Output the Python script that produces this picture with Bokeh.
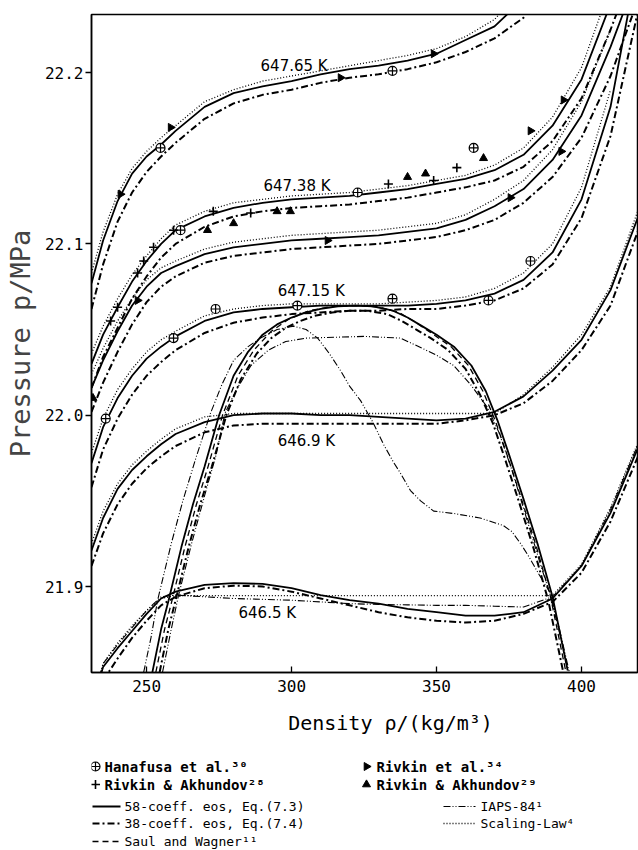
from bokeh.plotting import figure
from bokeh.layouts import column
from bokeh.models import Range1d, FixedTicker, PrintfTickFormatter
from bokeh.core.properties import value
from bokeh.embed import file_html
from bokeh.resources import INLINE
import math

# ---------------- data ----------------
# density grid for isotherms, kg/m3
rho = [231, 235, 240, 245, 250, 255, 260, 270, 280, 290, 300, 310, 320, 330,
       340, 350, 360, 370, 380, 390, 400, 410, 420]

# T = 647.65 K
t64765_58 = [22.077, 22.102, 22.125, 22.141, 22.151, 22.158, 22.166, 22.180, 22.188, 22.192,
             22.195, 22.199, 22.202, 22.204, 22.207, 22.211, 22.219, 22.227, 22.243, 22.27]
t64765_38 = [22.062, 22.088, 22.113, 22.130, 22.142, 22.151, 22.159, 22.173, 22.182, 22.187,
             22.190, 22.194, 22.197, 22.199, 22.202, 22.206, 22.212, 22.220, 22.232, 22.26]
t64765_sc = [22.083, 22.107, 22.129, 22.144, 22.154, 22.162, 22.169, 22.183, 22.190, 22.195,
             22.198, 22.201, 22.204, 22.207, 22.210, 22.214, 22.221, 22.231, 22.25]
# T = 647.38 K
t64738_58 = [22.030, 22.047, 22.063, 22.078, 22.090, 22.100, 22.108, 22.116, 22.121, 22.124,
             22.126, 22.127, 22.128, 22.130, 22.132, 22.135, 22.138, 22.143, 22.152, 22.169,
             22.196, 22.240]
t64738_38 = [22.016, 22.034, 22.051, 22.068, 22.081, 22.092, 22.100, 22.110, 22.116, 22.119,
             22.121, 22.122, 22.123, 22.125, 22.127, 22.130, 22.133, 22.137, 22.145, 22.160,
             22.185, 22.225, 22.27]
t64738_sc = [22.036, 22.052, 22.068, 22.082, 22.093, 22.103, 22.111, 22.119, 22.124, 22.126,
             22.128, 22.129, 22.130, 22.132, 22.134, 22.137, 22.140, 22.146, 22.156, 22.174,
             22.203, 22.25]
# unlabelled isotherm between 647.38 K and 647.15 K
t_mid_58 = [22.016, 22.032, 22.049, 22.064, 22.075, 22.083, 22.087, 22.094, 22.098, 22.100,
            22.102, 22.103, 22.104, 22.105, 22.107, 22.109, 22.114, 22.122, 22.132, 22.149,
            22.175, 22.215, 22.26]
t_mid_38 = [22.002, 22.019, 22.037, 22.053, 22.066, 22.075, 22.081, 22.089, 22.093, 22.095,
            22.097, 22.098, 22.099, 22.100, 22.102, 22.104, 22.108, 22.114, 22.124, 22.139,
            22.162, 22.198, 22.245]
t_mid_sc = [22.024, 22.039, 22.055, 22.068, 22.079, 22.086, 22.090, 22.097, 22.101, 22.103,
            22.105, 22.106, 22.107, 22.108, 22.110, 22.112, 22.117, 22.126, 22.137, 22.155,
            22.183, 22.225]
# T = 647.15 K
t64715_58 = [21.972, 21.993, 22.010, 22.023, 22.033, 22.040, 22.046, 22.055, 22.060, 22.062,
             22.063, 22.064, 22.064, 22.064, 22.064, 22.065, 22.067, 22.071, 22.079, 22.095,
             22.126, 22.180, 22.27]
t64715_38 = [21.958, 21.980, 21.998, 22.012, 22.023, 22.031, 22.038, 22.048, 22.054, 22.057,
             22.059, 22.060, 22.061, 22.061, 22.062, 22.062, 22.064, 22.067, 22.074, 22.088,
             22.115, 22.163, 22.24]
t64715_sc = [21.978, 21.998, 22.015, 22.027, 22.037, 22.044, 22.049, 22.058, 22.062, 22.064,
             22.065, 22.065, 22.065, 22.065, 22.066, 22.067, 22.069, 22.074, 22.083, 22.100,
             22.133, 22.190]
# T = 646.9 K
t6469_58 = [21.921, 21.940, 21.957, 21.968, 21.976, 21.983, 21.989, 21.996, 22.000, 22.001,
            22.001, 22.000, 22.000, 21.999, 21.998, 21.997, 21.998, 22.002, 22.011, 22.026,
            22.044, 22.073, 22.118]
t6469_38 = [21.912, 21.931, 21.948, 21.960, 21.969, 21.976, 21.982, 21.990, 21.994, 21.995,
            21.995, 21.995, 21.995, 21.995, 21.995, 21.995, 21.997, 22.000, 22.007, 22.020,
            22.038, 22.064, 22.110]
t6469_sc = [21.925, 21.944, 21.960, 21.971, 21.979, 21.986, 21.992, 21.999, 22.001, 22.001,
            22.001, 22.001, 22.001, 22.001, 22.001, 22.001, 22.001, 22.001, 22.012, 22.028,
            22.047, 22.075, 22.122]
# T = 646.5 K
t6465_58 = [21.830, 21.853, 21.864, 21.874, 21.884, 21.893, 21.897, 21.901, 21.902, 21.9015,
            21.899, 21.895, 21.892, 21.890, 21.887, 21.885, 21.883, 21.883, 21.885, 21.893,
            21.912, 21.943, 21.983]
t6465_38 = [21.820, 21.845, 21.858, 21.870, 21.880, 21.889, 21.894, 21.899, 21.9005, 21.900,
            21.897, 21.893, 21.889, 21.885, 21.882, 21.880, 21.879, 21.880, 21.884, 21.891,
            21.908, 21.938, 21.978]
t6465_sc = [21.830, 21.855, 21.867, 21.877, 21.886, 21.893, 21.8947, 21.8947, 21.8947, 21.8947,
            21.8947, 21.8947, 21.8947, 21.8947, 21.8947, 21.8947, 21.8947, 21.8947, 21.8947, 21.8947,
            21.913, 21.946, 21.986]
t6465_ia = [21.830, 21.855, 21.866, 21.876, 21.886, 21.894, 21.895, 21.894, 21.893, 21.8925,
            21.892, 21.891, 21.890, 21.8895, 21.8893, 21.889, 21.889, 21.8885, 21.888, 21.894,
            21.912, 21.945, 21.985]

# coexistence curves (density, pressure)
dome58_rho = [252.0, 255, 257.6, 262, 266, 270, 275, 280, 285, 290, 295, 300, 305, 310, 316,
              322, 328, 335, 340, 345, 350, 356, 362, 367, 371, 375, 380, 385, 390, 395.2]
dome58_p = [21.850, 21.875, 21.892, 21.923, 21.948, 21.970, 22.000, 22.023, 22.037, 22.047,
            22.053, 22.057, 22.060, 22.062, 22.0635, 22.064, 22.0635, 22.061, 22.057, 22.052,
            22.047, 22.040, 22.029, 22.014, 21.997, 21.977, 21.951, 21.924, 21.894, 21.851]
dome38_rho = [254.5, 257.5, 260, 264.5, 268.5, 272.5, 277.5, 282.5, 288, 293, 298, 303, 308, 314,
              320, 326, 333, 338, 343, 348, 354, 360, 365, 369.5, 373.5, 378.5, 383.5, 388.5, 393.7]
dome38_p = [21.850, 21.875, 21.892, 21.923, 21.948, 21.970, 22.000, 22.021, 22.036, 22.045,
            22.051, 22.055, 22.058, 22.060, 22.061, 22.061, 22.059, 22.055, 22.050, 22.045,
            22.038, 22.027, 22.012, 21.995, 21.975, 21.949, 21.922, 21.892, 21.850]
domesw_rho = [253.2, 256.2, 258.8, 263.2, 267.2, 271.2, 276.2, 281.5, 287, 293, 299, 306, 314,
              322, 330, 337, 343, 349, 355, 361, 366, 370.2, 374.3, 379.3, 384.3, 389.3, 394.5]
domesw_p = [21.850, 21.875, 21.892, 21.923, 21.948, 21.970, 22.000, 22.023, 22.038, 22.049,
            22.056, 22.061, 22.0635, 22.064, 22.0632, 22.060, 22.054, 22.047, 22.040, 22.029,
            22.014, 21.997, 21.977, 21.951, 21.924, 21.894, 21.851]
domeia_rho = [249.0, 251.5, 253.8, 258.5, 262.5, 267, 272, 276, 280, 285, 289.3, 295, 300.7,
              305, 309, 313, 316.9, 320, 323.8, 328, 331.7, 335, 337.6, 341, 344.5, 349, 356,
              365, 373, 376, 379, 382, 385, 389.3, 392, 395.8]
domeia_p = [21.850, 21.870, 21.892, 21.925, 21.950, 21.975, 22.001, 22.018, 22.032, 22.040,
            22.045, 22.050, 22.052, 22.050, 22.045, 22.036, 22.026, 22.017, 22.0085, 21.996,
            21.983, 21.973, 21.966, 21.956, 21.950, 21.944, 21.9426, 21.940, 21.9356, 21.932,
            21.925, 21.917, 21.908, 21.896, 21.878, 21.850]
domesc_rho = [255.5, 258.5, 261, 265.5, 270, 274, 277, 281, 286, 292, 298, 305, 315, 325, 337.6,
              344.5, 350, 355.9, 361.7, 367.6, 371.5, 376, 381, 386, 389.3, 394, 395.5]
domesc_p = [21.850, 21.875, 21.8947, 21.925, 21.953, 21.977, 22.001, 22.015, 22.029, 22.038,
            22.043, 22.045, 22.0455, 22.046, 22.045, 22.0395, 22.035, 22.029, 22.018, 22.0044,
            21.990, 21.968, 21.940, 21.912, 21.8947, 21.862, 21.850]

# experimental data
hana_rho = [235.9, 254.8, 259.3, 261.7, 273.8, 302.0, 322.8, 334.8, 334.8, 362.8, 367.9, 382.4]
hana_p = [21.998, 22.156, 22.045, 22.108, 22.062, 22.064, 22.130, 22.068, 22.201, 22.156, 22.067, 22.090]
riv34_rho = [241.0, 258.3, 316.9, 349.0, 246.9, 312.4, 375.5, 393.0, 382.4, 393.8]
riv34_p = [22.129, 22.168, 22.197, 22.211, 22.067, 22.102, 22.127, 22.154, 22.166, 22.184]
riv28_rho = [237.6, 240.0, 246.9, 249.0, 252.4, 259.3, 273.0, 285.9, 333.4, 349.0, 357.0]
riv28_p = [22.055, 22.063, 22.083, 22.090, 22.098, 22.108, 22.119, 22.118, 22.135, 22.137, 22.1445]
riv29_rho = [231.5, 271.0, 280.0, 295.0, 299.6, 340.0, 346.2, 366.2]
riv29_p = [22.010, 22.108, 22.112, 22.119, 22.119, 22.139, 22.141, 22.150]

iso_labels = ["647.65 K", "647.38 K", "647.15 K", "646.9 K", "646.5 K"]
x_ticks = [250, 300, 350, 400]
y_ticks = [21.9, 22.0, 22.1, 22.2]

# ---------------- styles ----------------
MONO = "DejaVu Sans Mono"
S58 = dict(line_color="black", line_width=1.8)
S38 = dict(line_color="black", line_width=2.0, line_dash="7 3 2 3")
SSW = dict(line_color="black", line_width=1.3, line_dash="6 4")
SIA = dict(line_color="black", line_width=1.1, line_dash="7 2 1 2 1 2")
SSC = dict(line_color="black", line_width=1.3, line_dash="1 2")

p = figure(width=638, height=700, x_range=Range1d(231.0, 419.3), y_range=Range1d(21.8498, 22.2339),
           output_backend="svg", toolbar_location=None,
           min_border_left=91, min_border_right=1, min_border_top=14, min_border_bottom=28)
p.xgrid.visible = False
p.ygrid.visible = False
p.outline_line_color = "black"
p.outline_line_width = 1.5
p.background_fill_color = "white"
p.border_fill_color = "white"

p.xaxis.ticker = FixedTicker(ticks=x_ticks)
p.yaxis.ticker = FixedTicker(ticks=y_ticks)
p.yaxis.formatter = PrintfTickFormatter(format="%.1f")
for ax in (p.xaxis[0], p.yaxis[0]):
    ax.minor_tick_line_color = None
    ax.axis_line_width = 1.5
    ax.major_tick_line_width = 1.3
    ax.major_label_text_font = MONO
    ax.major_label_text_font_size = "16px"
    ax.major_label_text_color = "black"
p.xaxis.major_tick_in = 6
p.xaxis.major_tick_out = 0
p.xaxis.major_label_standoff = 7
p.yaxis.major_tick_in = 0
p.yaxis.major_tick_out = 6
p.yaxis.major_label_standoff = 2
p.yaxis.axis_label = "Pressure p/MPa"
p.yaxis.axis_label_text_font = MONO
p.yaxis.axis_label_text_font_size = "27px"
p.yaxis.axis_label_text_font_style = "normal"
p.yaxis.axis_label_standoff = 6

isotherms = [
    (t64765_58, t64765_38, t64765_sc),
    (t64738_58, t64738_38, t64738_sc),
    (t_mid_58, t_mid_38, t_mid_sc),
    (t64715_58, t64715_38, t64715_sc),
    (t6469_58, t6469_38, t6469_sc),
    (t6465_58, t6465_38, t6465_sc),
]
for v58, v38, vsc in isotherms:
    p.line(rho[:len(vsc)], vsc, **SSC)
    p.line(rho[:len(v38)], v38, **S38)
    p.line(rho[:len(v58)], v58, **S58)
p.line(rho[:len(t6465_ia)], t6465_ia, **SIA)

p.line(domesc_rho, domesc_p, **SIA)
p.line(domeia_rho, domeia_p, **SIA)
p.line(domesw_rho, domesw_p, **SSW)
p.line(dome38_rho, dome38_p, **S38)
p.line(dome58_rho, dome58_p, **S58)

p.scatter(hana_rho, hana_p, marker="circle_cross", size=9, line_color="black",
          fill_color="white", line_width=1.2)
p.scatter(riv34_rho, riv34_p, marker="triangle", angle=-math.pi / 2, size=8,
          line_color="black", fill_color="black")
p.scatter(riv28_rho, riv28_p, marker="cross", size=9, line_color="black", line_width=1.6)
p.scatter(riv29_rho, riv29_p, marker="triangle", size=8, line_color="black", fill_color="black")

# isotherm labels (positions in data coordinates)
p.text(x=[289.3, 290.3, 295.2, 295.2, 281.7], y=[22.204, 22.134, 22.0727, 21.9852, 21.8848],
       text=iso_labels, text_font=value("DejaVu Sans"), text_font_size="15px",
       text_baseline="middle", text_align="left", text_color="black")

# ---------------- x title and legend (second panel, pixel-like coordinates) ----------------
lf = figure(width=638, height=150, x_range=Range1d(91, 637), y_range=Range1d(150, 0),
            output_backend="svg", toolbar_location=None,
            min_border_left=91, min_border_right=1, min_border_top=0, min_border_bottom=0,
            x_axis_location=None, y_axis_location=None)
lf.xgrid.visible = False
lf.ygrid.visible = False
lf.outline_line_color = None
lf.background_fill_color = "white"
lf.border_fill_color = "white"

lf.text(x=[390], y=[22], text=["Density ρ/(kg/m³)"], text_font=value(MONO),
        text_font_size="20px", text_align="center", text_baseline="middle")

mark_names = ["Hanafusa et al.³⁰", "Rivkin & Akhundov²⁸", "Rivkin et al.³⁴", "Rivkin & Akhundov²⁹"]
lf.text(x=[104, 104, 376, 376], y=[66, 84, 66, 84], text=mark_names, text_font=value(MONO),
        text_font_size="14px", text_font_style="bold", text_baseline="middle", text_align="left")
lf.scatter([95], [66], marker="circle_cross", size=9, line_color="black", fill_color="white", line_width=1.2)
lf.scatter([95], [84], marker="cross", size=9, line_color="black", line_width=1.6)
lf.scatter([366], [66], marker="triangle", angle=-math.pi / 2, size=8, line_color="black", fill_color="black")
lf.scatter([366], [84], marker="triangle", size=8, line_color="black", fill_color="black")

line_names = ["58-coeff. eos, Eq.(7.3)", "38-coeff. eos, Eq.(7.4)", "Saul and Wagner¹¹",
              "IAPS-84¹", "Scaling-Law⁴"]
lf.text(x=[124, 124, 124, 480, 480], y=[106, 123, 141, 106, 123], text=line_names,
        text_font=value(MONO), text_font_size="13px", text_baseline="middle", text_align="left")
lf.line([92, 120], [106, 106], **S58)
lf.line([92, 120], [123, 123], **S38)
lf.line([92, 120], [141, 141], **SSW)
lf.line([443, 475], [106, 106], **SIA)
lf.line([443, 475], [123, 123], **SSC)

layout = column(p, lf, spacing=0)
open("out.html", "w").write(file_html(layout, INLINE))
